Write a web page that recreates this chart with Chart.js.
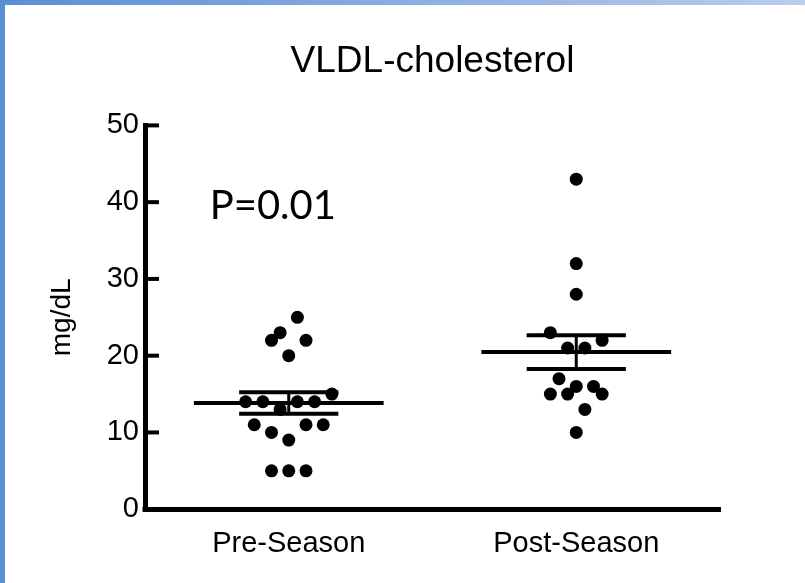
<!DOCTYPE html>
<html>
<head>
<meta charset="utf-8">
<script src="https://cdn.jsdelivr.net/npm/chart.js@4"></script>
<style>
  body { margin: 0; background: #fff; }
  #frame { position: relative; width: 805px; height: 583px; background: #fff; overflow: hidden; }
  #leftBar { position: absolute; left: 0; top: 0; width: 5px; height: 583px; background: #5a8ed6; }
  #topBar { position: absolute; left: 0; top: 0; width: 805px; height: 5px; background: linear-gradient(to right, #5a8ed6, #bccced); }
  canvas { position: absolute; left: 0; top: 0; }
</style>
</head>
<body>
<div id="frame">
  <canvas id="chart" width="805" height="583"></canvas>
  <div id="leftBar"></div>
  <div id="topBar"></div>
</div>
<script>
const categories = ['Pre-Season', 'Post-Season']
const preValues = [25, 23, 22, 22, 20, 15, 14, 14, 14, 14, 13, 11, 11, 11, 10, 9, 5, 5, 5]
// horizontal slot of each dot in the swarm (in half-dot steps)
const preSlots = [1, -1, -2, 2, 0, 5, -5, -3, 1, 3, -1, -4, 2, 4, -2, 0, -2, 0, 2]
const postValues = [43, 32, 28, 23, 22, 21, 21, 17, 16, 16, 15, 15, 15, 13, 10]
const postSlots = [0, 0, 0, -3, 3, -1, 1, -2, 0, 2, -3, -1, 3, 1, 0]
const yTicks = [0, 10, 20, 30, 40, 50]
const pLabel = 'P=0.01'

const groups = [
  { values: preValues, slots: preSlots },
  { values: postValues, slots: postSlots }
]

const SLOT = 0.06
const MEAN_HALF = 0.66
const CAP_HALF = 0.345

function mean(a) { return a.reduce((s, v) => s + v, 0) / a.length }
function sem(a) {
  const m = mean(a)
  const sd = Math.sqrt(a.reduce((s, v) => s + (v - m) * (v - m), 0) / (a.length - 1))
  return sd / Math.sqrt(a.length)
}

const datasets = []
groups.forEach((g, i) => {
  const cx = 2 * i + 1
  datasets.push({
    type: 'scatter',
    data: g.values.map((v, k) => ({ x: cx + g.slots[k] * SLOT, y: v })),
    pointRadius: 6.5,
    pointBorderWidth: 0,
    backgroundColor: '#000',
    order: 0
  })
  const m = mean(g.values)
  const e = sem(g.values)
  const seg = (pts, w) => datasets.push({
    type: 'line', data: pts, borderColor: '#000', borderWidth: w,
    pointRadius: 0, fill: false, order: 1
  })
  seg([{ x: cx - MEAN_HALF, y: m }, { x: cx + MEAN_HALF, y: m }], 4)
  seg([{ x: cx - CAP_HALF, y: m + e }, { x: cx + CAP_HALF, y: m + e }], 4)
  seg([{ x: cx - CAP_HALF, y: m - e }, { x: cx + CAP_HALF, y: m - e }], 4)
  seg([{ x: cx, y: m - e }, { x: cx, y: m + e }], 3)
})

const innerTicks = {
  id: 'innerTicks',
  afterDraw(chart) {
    const { ctx, chartArea, scales: { x, y } } = chart
    ctx.save()
    ctx.strokeStyle = '#000'
    ctx.lineWidth = 4
    y.ticks.forEach(t => {
      const py = y.getPixelForValue(t.value)
      ctx.beginPath()
      ctx.moveTo(chartArea.left, py)
      ctx.lineTo(chartArea.left + 14, py)
      ctx.stroke()
    })
    // square off the corner where the axes meet
    ctx.fillStyle = '#000'
    ctx.fillRect(chartArea.left - 2.5, chartArea.bottom - 2.5, 5, 5)
    ctx.font = '40px Lato'
    ctx.textBaseline = 'middle'
    ctx.fillText(pLabel, x.getPixelForValue(0.45), y.getPixelForValue(39.5))
    ctx.restore()
  }
}

new Chart(document.getElementById('chart'), {
  type: 'scatter',
  data: { datasets: datasets },
  plugins: [innerTicks],
  options: {
    responsive: false,
    animation: false,
    layout: { padding: { left: 25, right: 85, top: 21, bottom: 5 } },
    plugins: {
      legend: { display: false },
      tooltip: { enabled: false },
      title: {
        display: true,
        text: 'VLDL-cholesterol',
        fullSize: false,
        color: '#000',
        font: { family: 'Liberation Sans', size: 37, weight: 'normal' },
        padding: { top: 19, bottom: 41 }
      }
    },
    scales: {
      x: {
        type: 'linear',
        min: 0,
        max: 4,
        grid: { display: false, drawTicks: false },
        border: { display: true, color: '#000', width: 5 },
        afterBuildTicks: s => { s.ticks = categories.map((c, i) => ({ value: 2 * i + 1 })) },
        ticks: {
          color: '#000',
          padding: 17,
          font: { family: 'Liberation Sans', size: 29 },
          callback: v => categories[(v - 1) / 2]
        }
      },
      y: {
        min: 0,
        max: 50,
        grid: { display: false, drawTicks: false },
        border: { display: true, color: '#000', width: 5 },
        afterBuildTicks: s => { s.ticks = yTicks.map(v => ({ value: v })) },
        afterFit: s => { s.width = 120 },
        ticks: {
          color: '#000',
          padding: 6,
          font: { family: 'Liberation Sans', size: 29 }
        },
        title: {
          display: true,
          text: 'mg/dL',
          color: '#000',
          padding: { top: 20, bottom: 0 },
          font: { family: 'Liberation Sans', size: 28 }
        }
      }
    }
  }
})
</script>
</body>
</html>
